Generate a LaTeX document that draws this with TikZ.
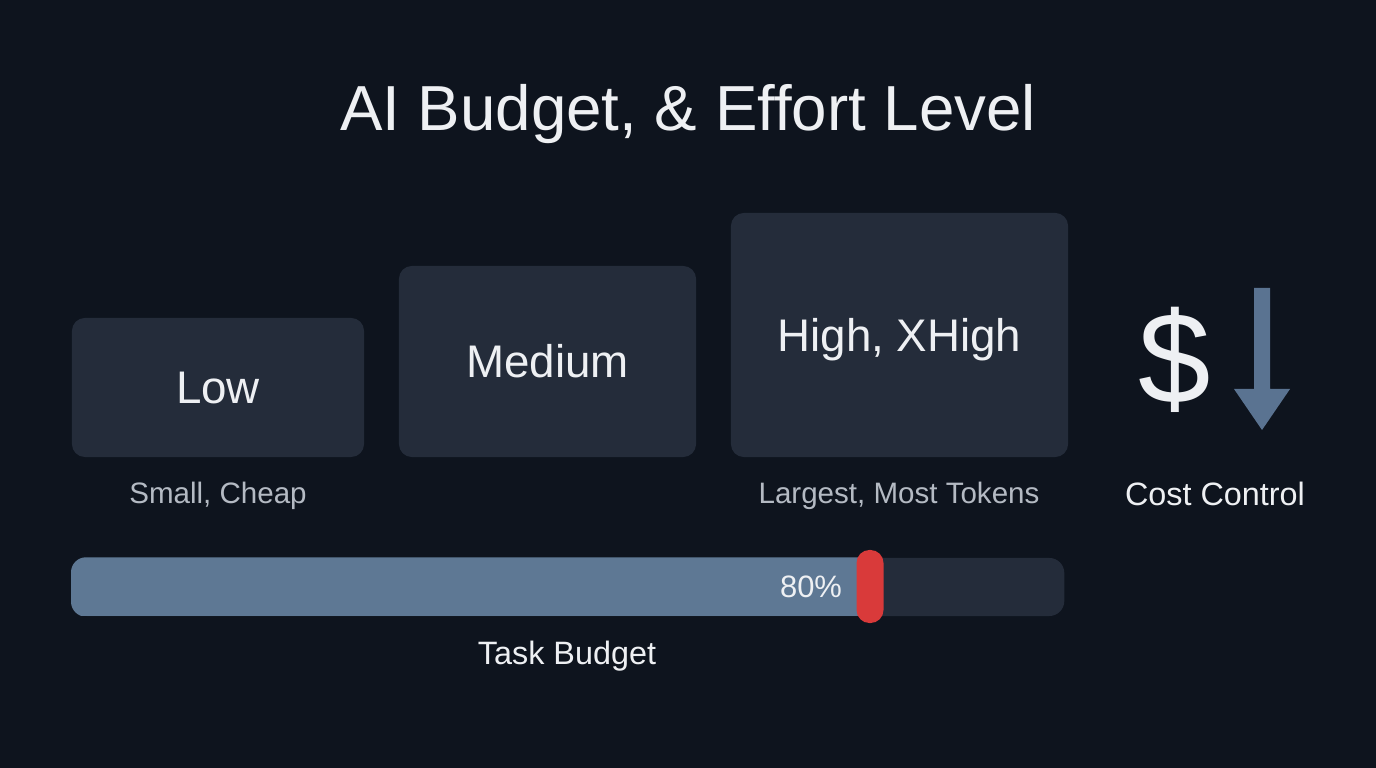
\documentclass[tikz,border=0pt]{standalone}
\usepackage{fontspec}
\setmainfont{Liberation Sans}
\usetikzlibrary{positioning}

\definecolor{bgnavy}{HTML}{0E141E}
\definecolor{boxgray}{HTML}{242C3A}
\definecolor{barblue}{HTML}{5E7894}
\definecolor{arrowblue}{HTML}{5A7391}
\definecolor{knobred}{HTML}{D93A3A}
\definecolor{txtwhite}{HTML}{EEF0F3}
\definecolor{txtgray}{HTML}{B4BAC3}

\begin{document}
\begin{tikzpicture}[
  x=0.01cm,y=-0.01cm,
  every node/.style={align=center,text=txtwhite},
  title/.style={font=\fontsize{18.1}{20}\selectfont,anchor=base},
  level/.style={fill=boxgray,rounded corners=0.13cm,inner sep=0pt,
                text height=9.3pt,text depth=0pt,
                font=\fontsize{13}{15}\selectfont},
  caption/.style={font=\fontsize{8.4}{10}\selectfont,text=txtgray,anchor=base},
  label/.style={font=\fontsize{9.2}{10}\selectfont,anchor=base},
  track/.style={fill=boxgray,rounded corners=0.15cm,minimum width=9.92cm,
                minimum height=0.58cm,inner sep=0pt},
  knob/.style={fill=knobred,rounded corners=0.13cm,minimum width=0.27cm,
               minimum height=0.73cm,inner sep=0pt}]

  % background and frame
  \fill[bgnavy] (0,0) rectangle (1376,768);
  \useasboundingbox (0,0) rectangle (1376,768);

  \node[title] (ttl) at (688,131) {AI Budget, \& Effort Level};

  % effort levels
  \node[level,minimum width=2.92cm,minimum height=1.39cm] (low) at (218,387.5) {Low};
  \node[level,minimum width=2.97cm,minimum height=1.91cm] (med) at (547.5,361.5) {Medium};
  \node[level,minimum width=3.37cm,minimum height=2.44cm] (high) at (899.5,335) {High, XHigh};

  \node[caption] (lowcap) at (218,504) {Small, Cheap};
  \node[caption] (highcap) at (899,504) {Largest, Most Tokens};

  % cost control
  \node[font=\fontsize{37}{40}\selectfont,anchor=base] (dollar) at (1175,404) {\$};
  \fill[arrowblue] (1254,288) -- (1270,288) -- (1270,389) -- (1290,389)
    -- (1262,430) -- (1234,389) -- (1254,389) -- cycle;
  \node[label] (cost) at (1215,506) {Cost Control};

  % task budget bar
  \node[track] (bar) at (568,587) {};
  \begin{scope}
    \clip[rounded corners=0.15cm] (bar.north west) rectangle (bar.south east);
    \fill[barblue] (bar.north west) rectangle (870,616);
  \end{scope}
  \node[knob] (knb) at (870,586.5) {};
  \node[label,font=\fontsize{8.8}{10}\selectfont] (pct) at (811,598) {80\%};
  \node[label] (task) at (567,665) {Task Budget};

\end{tikzpicture}
\end{document}
